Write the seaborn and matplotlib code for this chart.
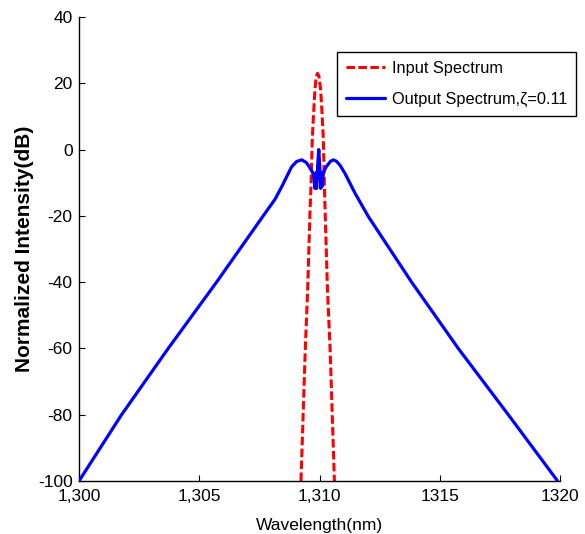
import numpy as np
import pandas as pd
import seaborn as sns
import matplotlib
matplotlib.use("Agg")
import matplotlib.pyplot as plt

# ---- data ----
input_wl = [1309.23, 1309.32, 1309.41, 1309.51, 1309.60, 1309.65, 1309.70, 1309.74,
            1309.81, 1309.86, 1309.92, 1309.98, 1310.05, 1310.12, 1310.16, 1310.20,
            1310.24, 1310.33, 1310.44, 1310.53, 1310.62]
input_db = [-100, -80, -60, -42, -20, -10, 3, 9,
            18, 22, 23, 22, 18, 9, 3, -10,
            -20, -42, -60, -80, -100]

output_wl = [1300.00, 1301.77, 1303.71, 1305.72, 1307.66, 1308.15, 1308.43, 1308.84,
             1309.05, 1309.26, 1309.45, 1309.53, 1309.70, 1309.76, 1309.81, 1309.85,
             1309.88, 1309.93, 1309.97, 1310.01, 1310.05, 1310.09, 1310.12, 1310.16,
             1310.22, 1310.30, 1310.45, 1310.57, 1310.70, 1310.85, 1311.06, 1311.48,
             1312.03, 1313.83, 1315.77, 1317.85, 1319.90]
output_db = [-100, -80, -60, -40, -20, -15, -11.2, -5.2,
             -3.6, -3.1, -3.9, -4.7, -6.7, -8, -11.7, -7,
             -11.7, -4, 0, -5, -11.7, -7, -11, -7,
             -6, -5, -3.6, -3.1, -3.5, -4.7, -7.2, -13.2,
             -20.2, -40, -60, -80, -100]

x_ticks = [1300, 1305, 1310, 1315, 1320]
x_tick_labels = ["1,300", "1,305", "1,310", "1315", "1320"]
y_ticks = [40, 20, 0, -20, -40, -60, -80, -100]

label_in = "Input Spectrum"
label_out = "Output Spectrum,\u03b6=0.11"

# ---- style ----
sns.set_style("ticks")
fam = ["Liberation Sans", "DejaVu Sans"]
plt.rcParams["font.family"] = fam
plt.rcParams["axes.unicode_minus"] = False
plt.rcParams["text.color"] = "black"
plt.rcParams["axes.labelcolor"] = "black"
plt.rcParams["xtick.color"] = "black"
plt.rcParams["ytick.color"] = "black"

fig = plt.figure(figsize=(5.85, 5.34), dpi=100)
ax = fig.add_axes([79/585, 1 - 481/534, (560 - 79)/585, (481 - 17)/534])

df_in = pd.DataFrame({"wl": input_wl, "db": input_db})
df_out = pd.DataFrame({"wl": output_wl, "db": output_db})

sns.lineplot(data=df_in, x="wl", y="db", ax=ax, color="#ff0000", lw=2.2,
             linestyle=(0, (2.8, 1.1)), label=label_in, estimator=None, sort=False, zorder=2)
sns.lineplot(data=df_out, x="wl", y="db", ax=ax, color="#0000ff", lw=2.3,
             label=label_out, estimator=None, sort=False, zorder=3)

ax.set_xlim(1300, 1320)
ax.set_ylim(-100, 40)
ax.set_xticks(x_ticks)
ax.set_xticklabels(x_tick_labels)
ax.set_yticks(y_ticks)

for s in ["top", "right"]:
    ax.spines[s].set_visible(False)
for s in ["left", "bottom"]:
    ax.spines[s].set_linewidth(1.0)
    ax.spines[s].set_color("black")

ax.tick_params(axis="both", direction="in", length=4.5, width=0.8, colors="black",
               labelcolor="black", labelsize=12.5)
ax.tick_params(axis="y", pad=4.5)
ax.tick_params(axis="x", pad=6)

ax.set_xlabel("Wavelength(nm)", fontsize=12.5, labelpad=10, color="black")
ax.set_ylabel("Normalized Intensity(dB)", fontsize=15, fontweight="bold", color="black")
ax.yaxis.set_label_coords(-0.094, 0.5)

leg = ax.legend(loc="upper right", bbox_to_anchor=(576/585, 1 - 51.7/534),
                bbox_transform=fig.transFigure, borderaxespad=0, fontsize=11.8,
                frameon=True, fancybox=False, edgecolor="black", framealpha=1,
                handlelength=2.4, handletextpad=0.4, labelspacing=1.0, borderpad=0.55)
leg.get_frame().set_linewidth(1.0)
for t in leg.get_texts():
    t.set_color("black")

fig.savefig("out.png", dpi=100)
